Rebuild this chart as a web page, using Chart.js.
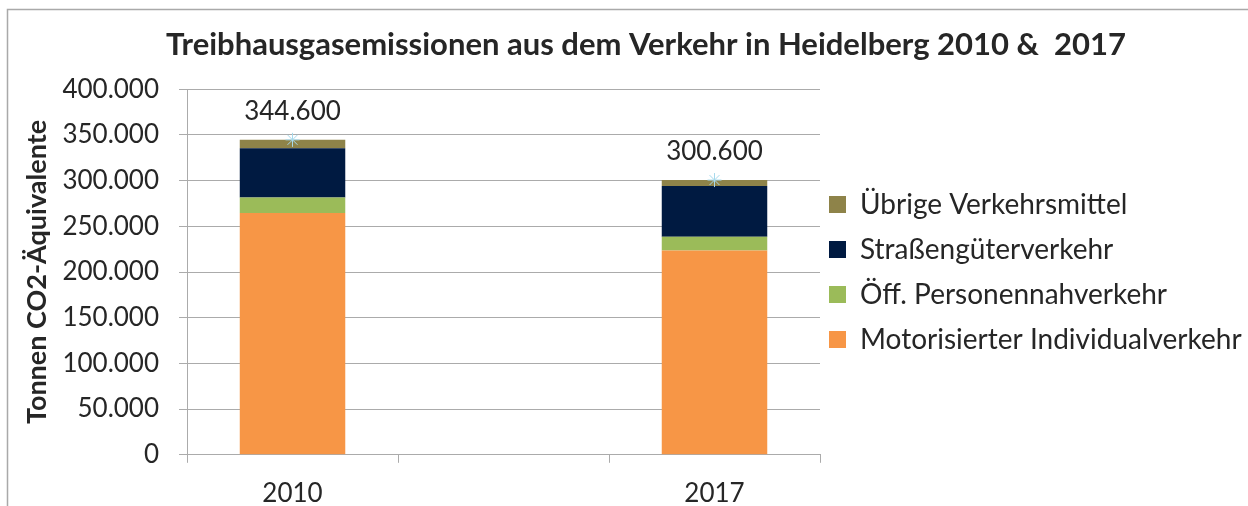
<!DOCTYPE html>
<html>
<head>
<meta charset="utf-8">
<script src="https://cdn.jsdelivr.net/npm/chart.js@4.4.1/dist/chart.umd.min.js"></script>
<style>
  html, body { margin: 0; padding: 0; background: #ffffff; overflow: hidden; }
  #wrap { position: relative; width: 1248px; height: 506px; }
</style>
</head>
<body>
<div id="wrap"><canvas id="c" width="1248" height="506"></canvas></div>
<script>
// ---- data ----
const categories = ['2010', '', '2017'];
const seriesNames = ['Motorisierter Individualverkehr', 'Öff. Personennahverkehr', 'Straßengüterverkehr', 'Übrige Verkehrsmittel'];
const motorisiert = [264500, null, 223500];
const oepnv = [17000, null, 15000];
const strassengueter = [53800, null, 55600];
const uebrige = [9300, null, 6500];
const totals = [344600, null, 300600];
const yTickLabels = ['0', '50.000', '100.000', '150.000', '200.000', '250.000', '300.000', '350.000', '400.000'];
const titleText = 'Treibhausgasemissionen aus dem Verkehr in Heidelberg 2010 &  2017';
const yTitleText = 'Tonnen CO2-Äquivalente';

// ---- style ----
const FONT = 'Lato, "Open Sans", sans-serif';
const TEXT = '#262626';
const GRID = '#ababab';
const colors = ['#F79646', '#9BBB59', '#001A41', '#8E8349'];

function fmtDE(v) {
  return String(Math.round(v)).replace(/\B(?=(\d{3})+(?!\d))/g, '.');
}

const borderPlugin = {
  id: 'outerBorder',
  beforeDraw(chart) {
    const ctx = chart.ctx;
    ctx.save();
    ctx.fillStyle = '#ffffff';
    ctx.fillRect(0, 0, chart.width, chart.height);
    ctx.strokeStyle = '#a9a9a9';
    ctx.lineWidth = 1.5;
    ctx.beginPath();
    ctx.moveTo(7.5, chart.height + 10);
    ctx.lineTo(7.5, 9.5);
    ctx.lineTo(chart.width + 10, 9.5);
    ctx.stroke();
    ctx.restore();
  }
};

const totalLabelPlugin = {
  id: 'totalLabels',
  afterDatasetsDraw(chart) {
    const idx = chart.data.datasets.findIndex(d => d.isTotal);
    if (idx < 0) return;
    const meta = chart.getDatasetMeta(idx);
    const ctx = chart.ctx;
    ctx.save();
    ctx.font = '26px ' + FONT;
    ctx.fillStyle = TEXT;
    ctx.textAlign = 'center';
    ctx.textBaseline = 'middle';
    meta.data.forEach((pt, i) => {
      const v = chart.data.datasets[idx].data[i];
      if (v == null) return;
      ctx.fillText(fmtDE(v), pt.x, pt.y - 28);
    });
    ctx.restore();
  }
};

const barSeries = [motorisiert, oepnv, strassengueter, uebrige];
const datasets = barSeries.map((arr, i) => ({
  type: 'bar',
  label: seriesNames[i],
  data: arr,
  backgroundColor: colors[i],
  borderWidth: 0,
  categoryPercentage: 1.0,
  barPercentage: 0.5,
  stack: 'bars',
  order: 1
}));
datasets.push({
  type: 'line',
  label: 'Gesamt',
  isTotal: true,
  data: totals,
  showLine: false,
  pointStyle: 'star',
  pointRadius: 7,
  pointBorderColor: '#a6d9ec',
  pointBackgroundColor: '#a6d9ec',
  pointBorderWidth: 1,
  borderColor: '#a6d9ec',
  stack: 'total',
  order: 0
});

const padL = 16;
const RIGHT_ZONE = 456;

new Chart(document.getElementById('c'), {
  data: { labels: categories, datasets: datasets },
  plugins: [borderPlugin, totalLabelPlugin],
  options: {
    responsive: false,
    devicePixelRatio: 1,
    animation: false,
    layout: { padding: { left: padL, right: padL - 44, top: 10, bottom: -18 } },
    plugins: {
      tooltip: { enabled: false },
      title: {
        display: true,
        text: titleText,
        color: TEXT,
        font: { family: FONT, size: 31, weight: 'bold', lineHeight: 1.2 },
        padding: { top: 16, bottom: 26 }
      },
      legend: {
        display: true,
        position: 'right',
        align: 'center',
        reverse: true,
        maxWidth: 1000,
        title: {
          display: true,
          text: ' ',
          font: { family: FONT, size: 1, lineHeight: 1 },
          padding: { top: 8, bottom: 9 }
        },
        labels: {
          color: TEXT,
          font: { family: FONT, size: 28, lineHeight: '36px' },
          boxWidth: 17,
          boxHeight: 17,
          padding: 9,
          filter: (item, data) => !data.datasets[item.datasetIndex].isTotal,
          generateLabels: (chart) => {
            const items = Chart.defaults.plugins.legend.labels.generateLabels(chart);
            return items.map(it => Object.assign(it, { text: [it.text], lineWidth: 0 }));
          }
        }
      }
    },
    scales: {
      x: {
        type: 'category',
        stacked: true,
        offset: true,
        grid: { display: true, drawOnChartArea: false, drawTicks: true, tickLength: 8, color: GRID, offset: true },
        border: { display: true, color: GRID, width: 1 },
        ticks: { color: TEXT, font: { family: FONT, size: 26 }, padding: 15, maxRotation: 0 }
      },
      y: {
        type: 'linear',
        stacked: true,
        position: 'left',
        min: 0,
        max: 400000,
        grid: { color: GRID, tickLength: 8, drawTicks: true },
        border: { display: true, color: GRID, width: 1 },
        ticks: {
          stepSize: 50000,
          color: TEXT,
          font: { family: FONT, size: 26 },
          padding: 20,
          callback: (v, i) => yTickLabels[i]
        },
        title: {
          display: true,
          text: yTitleText,
          color: TEXT,
          font: { family: FONT, size: 27, weight: 'bold', lineHeight: 1.2 },
          padding: { top: 5, bottom: -11 }
        }
      },
      spacer: {
        type: 'linear',
        position: 'right',
        weight: 2000,
        display: true,
        grid: { display: false, drawTicks: false },
        border: { display: false },
        ticks: { display: false },
        afterFit: (s) => {
          const lw = (s.chart.legend && s.chart.legend.width) ? s.chart.legend.width : 430;
          s.width = Math.max(0, RIGHT_ZONE - lw);
        }
      }
    }
  }
});
</script>
</body>
</html>
